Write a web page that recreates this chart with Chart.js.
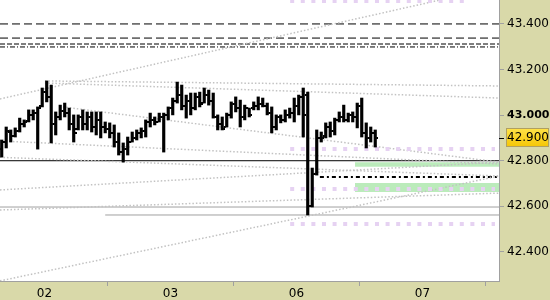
<!DOCTYPE html>
<html>
<head>
<meta charset="utf-8">
<script src="https://cdn.jsdelivr.net/npm/chart.js@4.4.1/dist/chart.umd.min.js"></script>
<style>
  body { margin: 0; background: #fff; }
  canvas { display: block; }
</style>
</head>
<body>
<canvas id="priceChart" width="550" height="300"></canvas>
<script>
// OHLC bars (one per period, index = position on the x axis)
const highs = [42.891, 42.948, 42.935, 42.944, 42.987, 42.979, 43.023, 43.023, 43.036, 43.119,
    43.150, 43.132, 43.014, 43.044, 43.053, 43.031, 43.001, 43.001, 43.023, 43.014,
    43.014, 43.014, 43.014, 42.970, 42.966, 42.957, 42.922, 42.878, 42.904, 42.926,
    42.935, 42.944, 42.979, 43.009, 42.992, 43.009, 43.009, 43.036, 43.075, 43.145,
    43.132, 43.088, 43.097, 43.097, 43.101, 43.119, 43.110, 43.097, 43.001, 42.992,
    43.009, 43.058, 43.080, 43.066, 43.044, 43.031, 43.058, 43.080, 43.075, 43.053,
    43.036, 43.001, 43.001, 43.023, 43.031, 43.075, 43.088, 43.119, 43.101, 42.768,
    42.935, 42.926, 42.966, 42.970, 42.987, 43.014, 43.044, 43.009, 43.014, 43.053,
    43.075, 42.966, 42.948, 42.935];
const lows = [42.816, 42.856, 42.882, 42.904, 42.926, 42.948, 42.970, 42.979, 42.851, 43.036,
    43.058, 42.878, 42.913, 42.979, 42.992, 42.935, 42.882, 42.935, 42.935, 42.935,
    42.926, 42.913, 42.900, 42.922, 42.900, 42.860, 42.825, 42.794, 42.825, 42.882,
    42.891, 42.900, 42.904, 42.948, 42.957, 42.970, 42.838, 42.979, 43.001, 43.053,
    43.023, 42.987, 43.001, 43.023, 43.036, 43.053, 43.044, 42.987, 42.935, 42.935,
    42.948, 42.987, 43.014, 42.948, 42.979, 42.992, 43.023, 43.023, 43.036, 43.001,
    42.922, 42.935, 42.966, 42.970, 42.987, 42.970, 43.001, 42.904, 42.562, 42.597,
    42.737, 42.882, 42.900, 42.904, 42.913, 42.970, 42.970, 42.970, 42.970, 42.944,
    42.904, 42.856, 42.882, 42.860];
const opens = [42.850, 42.880, 42.925, 42.910, 42.930, 42.960, 42.975, 43.000, 43.010, 43.040,
    43.100, 43.080, 42.960, 42.990, 43.020, 43.010, 42.960, 42.940, 42.990, 42.960,
    42.990, 42.950, 42.980, 42.950, 42.940, 42.920, 42.880, 42.840, 42.850, 42.880,
    42.900, 42.920, 42.930, 42.970, 42.980, 42.970, 42.990, 43.000, 43.030, 43.060,
    43.090, 43.040, 43.060, 43.030, 43.080, 43.055, 43.090, 43.060, 42.990, 42.960,
    42.950, 43.000, 43.050, 43.030, 42.990, 43.030, 43.030, 43.040, 43.050, 43.040,
    43.010, 42.950, 42.990, 42.980, 43.000, 43.010, 43.040, 43.080, 43.090, 42.600,
    42.740, 42.900, 42.910, 42.950, 42.930, 42.980, 42.990, 42.980, 43.000, 42.990,
    43.040, 42.920, 42.900, 42.920];
const closes = [42.880, 42.930, 42.910, 42.930, 42.960, 42.970, 43.000, 43.010, 43.030, 43.100,
    43.080, 42.960, 42.990, 43.020, 43.010, 42.960, 42.920, 42.990, 42.960, 42.990,
    42.950, 42.980, 42.950, 42.940, 42.920, 42.880, 42.840, 42.850, 42.880, 42.900,
    42.920, 42.930, 42.970, 42.980, 42.970, 42.990, 43.000, 43.030, 43.060, 43.090,
    43.040, 43.060, 43.030, 43.080, 43.050, 43.090, 43.060, 42.990, 42.960, 42.940,
    43.000, 43.050, 43.030, 42.990, 43.030, 43.000, 43.040, 43.050, 43.040, 43.010,
    42.950, 42.990, 42.980, 43.000, 43.010, 43.040, 43.080, 43.000, 42.600, 42.740,
    42.900, 42.900, 42.950, 42.930, 42.980, 42.990, 42.980, 43.000, 42.990, 43.040,
    42.920, 42.900, 42.920, 42.900];

// x axis: bar index; day labels sit between bars
const xMin = -0.38;
const xMax = 110.5;
const xTickValues = [9.5, 37.5, 65.5, 93.5];
const xTickLabels = ['02', '03', '06', '07'];

// price axis
const yMin = 42.2725;
const yMax = 43.505;
const yTickValues = [42.4, 42.6, 42.8, 43.0, 43.2, 43.4];
const lastPrice = 42.900;

// drawing objects: [x0, y0, x1, y1]
const dottedTrends = [
    [-0.38, 43.071, 97.4, 43.505],
    [-0.38, 42.273, 110.5, 42.733],
    [9.6, 43.150, 110.5, 43.128],
    [9.6, 43.141, 110.5, 43.075],
    [13.6, 43.036, 110.5, 42.794],
    [2.5, 42.884, 110.5, 42.786],
    [-0.38, 42.815, 110.5, 42.733],
    [-0.38, 42.672, 110.5, 42.794],
    [-0.38, 42.584, 110.5, 42.658]
];
// horizontal levels: [price, fromX, toX]
const dashedLevels = [[43.400, xMin, xMax], [43.338, xMin, xMax]];
const shortDashLevels = [[43.312, xMin, xMax]];
const dashDotLevels = [[43.299, xMin, xMax]];
const boldDotLevels = [[42.729, 70.7, xMax]];
const blackLevels = [[42.800, xMin, xMax]];
const grayLevels = [[42.597, xMin, xMax], [42.562, 23, xMax]];
const lavenderLevels = [[43.501, 64.1, 102.9], [42.851, 64.1, 109.6], [42.676, 64.1, 109.6], [42.523, 64.1, 109.6]];
// zones: [low, high, fromX, toX]
const greenZones = [[42.774, 42.793, 78.5, xMax], [42.663, 42.702, 78.5, xMax]];

// small canvases used as point styles for open (left) and close (right) ticks
function makeTick(side) {
    const c = document.createElement('canvas');
    c.width = 6;
    c.height = 2;
    const g = c.getContext('2d');
    g.fillStyle = '#000';
    g.fillRect(side === 'left' ? 0 : 4, 0, 2, 2);
    return c;
}

function segment(x0, y0, x1, y1, color, width, dash) {
    return {
        type: 'line',
        data: [{ x: x0, y: y0 }, { x: x1, y: y1 }],
        borderColor: color,
        borderWidth: width,
        borderDash: dash,
        pointRadius: 0,
        fill: false,
        order: 10
    };
}

const datasets = [];

datasets.push({
    type: 'bar',
    data: lows.map((l, i) => ({ x: i, y: [l, highs[i]] })),
    backgroundColor: '#000',
    barThickness: 2.5,
    grouped: false,
    order: 0
});
datasets.push({
    type: 'scatter',
    data: opens.map((o, i) => ({ x: i, y: o })),
    pointStyle: makeTick('left'),
    pointRadius: 3,
    order: 0
});
datasets.push({
    type: 'scatter',
    data: closes.map((c, i) => ({ x: i, y: c })),
    pointStyle: makeTick('right'),
    pointRadius: 3,
    order: 0
});

greenZones.forEach(z => {
    datasets.push({
        type: 'line',
        data: [{ x: z[2], y: z[1] }, { x: z[3], y: z[1] }],
        borderWidth: 0,
        pointRadius: 0,
        backgroundColor: 'rgba(150, 225, 150, 0.65)',
        fill: { target: { value: z[0] } },
        order: 12
    });
});
lavenderLevels.forEach(l => datasets.push(segment(l[1], l[0], l[2], l[0], '#e6d2f2', 4, [4, 6.6])));
dottedTrends.forEach(t => datasets.push(segment(t[0], t[1], t[2], t[3], '#c2c2c2', 1.5, [1.5, 2])));
dashedLevels.forEach(l => datasets.push(segment(l[1], l[0], l[2], l[0], '#000', 1, [8, 4])));
shortDashLevels.forEach(l => datasets.push(segment(l[1], l[0], l[2], l[0], '#000', 1, [5, 2])));
dashDotLevels.forEach(l => datasets.push(segment(l[1], l[0], l[2], l[0], '#000', 1, [5, 2, 1, 2])));
boldDotLevels.forEach(l => datasets.push(segment(l[1], l[0], l[2], l[0], '#000', 2, [4, 3, 2, 3])));
blackLevels.forEach(l => datasets.push(segment(l[1], l[0], l[2], l[0], '#000', 1, [])));
grayLevels.forEach(l => datasets.push(segment(l[1], l[0], l[2], l[0], '#a0a0a0', 1, [])));

// khaki frame around a white plot area
const framePlugin = {
    id: 'frame',
    beforeDraw(chart) {
        const { ctx, chartArea } = chart;
        ctx.save();
        ctx.fillStyle = '#d9d9a9';
        ctx.fillRect(0, 0, chart.width, chart.height);
        ctx.fillStyle = '#ffffff';
        ctx.fillRect(chartArea.left, chartArea.top, chartArea.right - chartArea.left, chartArea.bottom - chartArea.top);
        ctx.restore();
    }
};

// last price marker on the price axis
const lastPricePlugin = {
    id: 'lastPrice',
    afterDraw(chart) {
        const { ctx, chartArea } = chart;
        const y = Math.round(chart.scales.y.getPixelForValue(lastPrice));
        const left = chartArea.right + 7;
        ctx.save();
        const grad = ctx.createLinearGradient(0, y - 10, 0, y + 10);
        grad.addColorStop(0, '#ffe24a');
        grad.addColorStop(1, '#f5c400');
        ctx.fillStyle = grad;
        ctx.fillRect(left, y - 10, chart.width - left - 1, 19);
        ctx.strokeStyle = '#b0a060';
        ctx.lineWidth = 1;
        ctx.strokeRect(left + 0.5, y - 9.5, chart.width - left - 2, 18);
        ctx.strokeStyle = '#000';
        ctx.beginPath();
        ctx.moveTo(chartArea.right, y + 0.5);
        ctx.lineTo(chartArea.right + 5, y + 0.5);
        ctx.stroke();
        ctx.fillStyle = '#000';
        ctx.font = '12px "DejaVu Sans"';
        ctx.textBaseline = 'middle';
        ctx.fillText(lastPrice.toFixed(3), chartArea.right + 8, y);
        ctx.restore();
    }
};

new Chart(document.getElementById('priceChart'), {
    type: 'bar',
    data: { datasets: datasets },
    plugins: [framePlugin, lastPricePlugin],
    options: {
        responsive: false,
        animation: false,
        layout: { padding: 0, autoPadding: false },
        plugins: {
            legend: { display: false },
            tooltip: { enabled: false }
        },
        scales: {
            x: {
                type: 'linear',
                min: xMin,
                max: xMax,
                offset: false,
                afterFit: function(scale) { scale.height = 19; scale.paddingLeft = 0; scale.paddingRight = 0; },
                afterBuildTicks: function(scale) {
                    scale.ticks = xTickValues.map(v => ({ value: v }));
                },
                ticks: {
                    padding: 1,
                    color: '#000',
                    maxRotation: 0,
                    autoSkip: false,
                    font: { family: "'DejaVu Sans'", size: 12 },
                    callback: function(value) {
                        return xTickLabels[xTickValues.indexOf(value)];
                    }
                },
                grid: {
                    drawOnChartArea: false,
                    tickLength: 5,
                    color: '#a0a0a0'
                },
                border: { color: '#a0a0a0', width: 1 }
            },
            y: {
                position: 'right',
                min: yMin,
                max: yMax,
                afterFit: function(scale) { scale.width = 51; scale.paddingTop = 0; scale.paddingBottom = 0; },
                afterBuildTicks: function(scale) {
                    scale.ticks = yTickValues.map(v => ({ value: v }));
                },
                ticks: {
                    padding: 3,
                    color: '#000',
                    font: function(context) {
                        const bold = context.tick && Math.abs(context.tick.value - 43) < 1e-6;
                        return { family: "'DejaVu Sans'", size: bold ? 11 : 12, weight: bold ? 'bold' : 'normal' };
                    },
                    callback: function(value) {
                        return value.toFixed(3);
                    }
                },
                grid: {
                    drawOnChartArea: false,
                    tickLength: 5,
                    color: '#a0a0a0'
                },
                border: { color: '#a0a0a0', width: 1 }
            }
        }
    }
});
</script>
</body>
</html>
